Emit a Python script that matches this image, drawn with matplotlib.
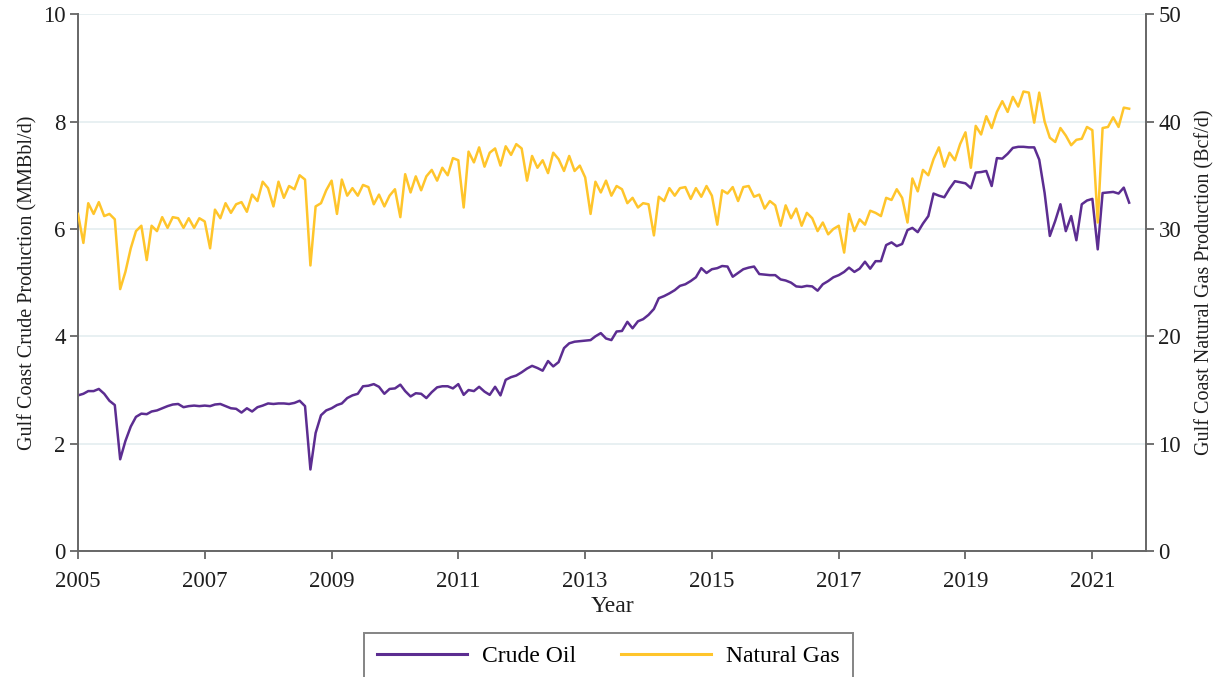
import matplotlib
matplotlib.use("Agg")
import matplotlib.pyplot as plt
import matplotlib.dates as mdates
import pandas as pd


# monthly Gulf Coast production, Jan 2005 - Aug 2021
start_month = "2005-01-01"

# crude oil, MMBbl/d
crude_oil = [
    2.90, 2.93, 2.98, 2.98, 3.02, 2.93, 2.80, 2.72, 1.71, 2.05, 2.32, 2.50,  # 2005
    2.56, 2.55, 2.60, 2.62, 2.66, 2.70, 2.73, 2.74, 2.68, 2.70, 2.71, 2.70,  # 2006
    2.71, 2.70, 2.73, 2.74, 2.70, 2.66, 2.65, 2.58, 2.66, 2.60, 2.68, 2.71,  # 2007
    2.75, 2.74, 2.75, 2.75, 2.74, 2.76, 2.80, 2.70, 1.52, 2.20, 2.53, 2.62,  # 2008
    2.66, 2.72, 2.75, 2.85, 2.90, 2.93, 3.07, 3.08, 3.11, 3.06, 2.93, 3.02,  # 2009
    3.03, 3.10, 2.98, 2.88, 2.94, 2.93, 2.85, 2.96, 3.05, 3.07, 3.07, 3.03,  # 2010
    3.11, 2.91, 3.00, 2.98, 3.06, 2.97, 2.91, 3.06, 2.90, 3.19, 3.24, 3.27,  # 2011
    3.33, 3.40, 3.45, 3.41, 3.36, 3.54, 3.44, 3.52, 3.78, 3.87, 3.90, 3.91,  # 2012
    3.92, 3.93, 4.00, 4.06, 3.96, 3.93, 4.09, 4.10, 4.27, 4.15, 4.28, 4.32,  # 2013
    4.40, 4.51, 4.71, 4.75, 4.80, 4.86, 4.94, 4.97, 5.03, 5.10, 5.27, 5.18,  # 2014
    5.25, 5.27, 5.31, 5.30, 5.11, 5.18, 5.25, 5.28, 5.30, 5.16, 5.15, 5.14,  # 2015
    5.14, 5.06, 5.04, 5.00, 4.93, 4.92, 4.94, 4.93, 4.85, 4.97, 5.03, 5.10,  # 2016
    5.14, 5.20, 5.28, 5.20, 5.26, 5.39, 5.26, 5.40, 5.40, 5.70, 5.75, 5.68,  # 2017
    5.72, 5.98, 6.02, 5.94, 6.10, 6.24, 6.66, 6.62, 6.59, 6.75, 6.89, 6.87,  # 2018
    6.85, 6.76, 7.05, 7.06, 7.08, 6.80, 7.32, 7.31, 7.40, 7.51, 7.53, 7.53,  # 2019
    7.52, 7.52, 7.29, 6.67, 5.87, 6.15, 6.46, 5.96, 6.24, 5.79, 6.46, 6.53,  # 2020
    6.56, 5.62, 6.67, 6.68, 6.69, 6.66, 6.77, 6.49,                          # 2021
]

# natural gas, Bcf/d
natural_gas = [
    31.4, 28.7, 32.4, 31.4, 32.5, 31.2, 31.4, 30.9, 24.4, 26.0, 28.2, 29.8,  # 2005
    30.3, 27.1, 30.3, 29.8, 31.1, 30.1, 31.1, 31.0, 30.1, 31.0, 30.1, 31.0,  # 2006
    30.7, 28.2, 31.8, 31.0, 32.4, 31.5, 32.3, 32.5, 31.6, 33.2, 32.6, 34.4,  # 2007
    33.8, 32.1, 34.4, 32.9, 34.0, 33.7, 35.0, 34.6, 26.6, 32.1, 32.4, 33.6,  # 2008
    34.5, 31.4, 34.6, 33.1, 33.8, 33.1, 34.1, 33.9, 32.3, 33.2, 32.1, 33.1,  # 2009
    33.7, 31.1, 35.1, 33.4, 34.9, 33.6, 34.9, 35.5, 34.5, 35.7, 35.0, 36.6,  # 2010
    36.4, 32.0, 37.2, 36.2, 37.6, 35.8, 37.1, 37.5, 35.9, 37.7, 36.9, 37.9,  # 2011
    37.5, 34.5, 36.8, 35.7, 36.4, 35.2, 37.1, 36.5, 35.4, 36.8, 35.4, 35.9,  # 2012
    34.8, 31.4, 34.4, 33.4, 34.5, 33.1, 34.0, 33.7, 32.4, 32.9, 32.0, 32.4,  # 2013
    32.3, 29.4, 33.0, 32.6, 33.8, 33.1, 33.8, 33.9, 32.8, 33.8, 33.0, 34.0,  # 2014
    33.1, 30.4, 33.6, 33.3, 33.9, 32.6, 33.9, 34.0, 33.0, 33.2, 31.9, 32.6,  # 2015
    32.2, 30.3, 32.2, 31.0, 31.9, 30.3, 31.5, 31.0, 29.8, 30.6, 29.5, 30.0,  # 2016
    30.3, 27.8, 31.4, 29.8, 30.9, 30.4, 31.7, 31.5, 31.2, 32.9, 32.7, 33.7,  # 2017
    32.9, 30.6, 34.7, 33.5, 35.5, 35.0, 36.5, 37.6, 35.8, 37.1, 36.4, 37.9,  # 2018
    39.0, 35.7, 39.6, 38.8, 40.5, 39.4, 40.9, 41.9, 40.9, 42.3, 41.4, 42.8,  # 2019
    42.7, 39.9, 42.7, 40.0, 38.5, 38.1, 39.4, 38.7, 37.8, 38.3, 38.4, 39.5,  # 2020
    39.2, 30.6, 39.4, 39.5, 40.4, 39.5, 41.3, 41.2,                          # 2021
]

left_ticks = [0, 2, 4, 6, 8, 10]
right_ticks = [0, 10, 20, 30, 40, 50]
year_ticks = list(range(2005, 2022, 2))

months = pd.date_range(start_month, periods=len(crude_oil), freq="MS")

plt.rcParams["font.family"] = ["Liberation Serif", "DejaVu Serif"]

oil_color = "#5c2d91"
gas_color = "#ffc52b"
axis_gray = "#666666"
text_color = "#1e1e1e"

fig = plt.figure(figsize=(12.15, 6.77), dpi=100)
ax1 = fig.add_axes([0.0642, 0.186, 0.879, 0.793])
ax2 = ax1.twinx()

p1, = ax1.plot(months, crude_oil, color=oil_color, lw=1.8, label="Crude Oil")
p2, = ax2.plot(months, natural_gas, color=gas_color, lw=1.8, label="Natural Gas")

ax1.set_ylim(0, 10)
ax2.set_ylim(0, 50)
ax1.set_yticks(left_ticks)
ax2.set_yticks(right_ticks)
ax1.set_xlim(pd.Timestamp("2005-01-01"), pd.Timestamp("2021-11-06"))
ax1.set_xticks([pd.Timestamp(f"{y}-01-01") for y in year_ticks])
ax1.xaxis.set_major_formatter(mdates.DateFormatter("%Y"))

ax1.grid(axis="y", color="#e6eff1", lw=1.3)
ax1.set_axisbelow(True)

for ax in (ax1, ax2):
    ax.spines["top"].set_visible(False)
    for side in ("left", "right", "bottom"):
        ax.spines[side].set_color(axis_gray)
        ax.spines[side].set_linewidth(1.4)
    ax.tick_params(colors=axis_gray, labelcolor=text_color, width=1.3, length=6,
                   labelsize=16.5, pad=3)
ax1.tick_params(axis="x", pad=8)
ax1.spines["right"].set_visible(False)
ax2.spines["left"].set_visible(False)
ax2.spines["bottom"].set_visible(False)

ax1.set_xlabel("Year", fontsize=17, color=text_color, labelpad=3)
ax1.set_ylabel("Gulf Coast Crude Production (MMBbl/d)", fontsize=14.5,
               color=text_color, labelpad=4)
ax2.set_ylabel("Gulf Coast Natural Gas Production (Bcf/d)", fontsize=14.5,
               color=text_color, labelpad=10)

graphs = [p1, p2]
leg = fig.legend(graphs, [g.get_label() for g in graphs], loc="upper center",
                 bbox_to_anchor=(0.501, 0.083), ncol=2, fontsize=17,
                 frameon=True, fancybox=False, handlelength=3.8,
                 handletextpad=0.65, columnspacing=1.9, borderpad=0.55)
leg.get_frame().set_edgecolor(axis_gray)
leg.get_frame().set_linewidth(1.4)
for line in leg.get_lines():
    line.set_linewidth(2.2)

fig.savefig("out.png", dpi=100)
